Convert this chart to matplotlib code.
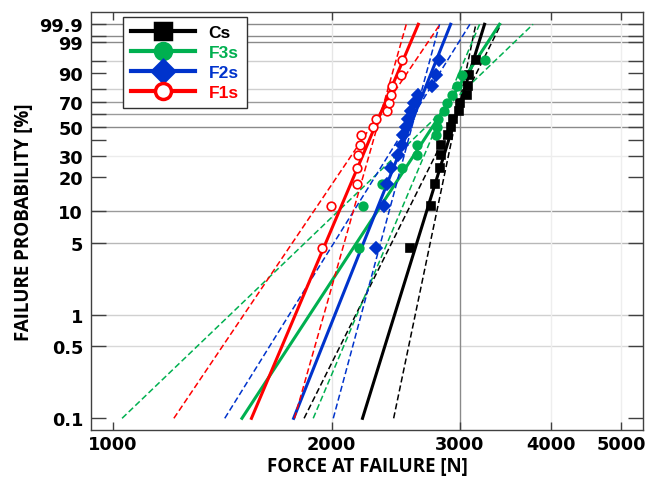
import numpy as np
import matplotlib
matplotlib.use('Agg')
import matplotlib.pyplot as plt
from matplotlib.lines import Line2D
from matplotlib.ticker import FixedLocator, NullLocator

# Data
series = ['Cs', 'F3s', 'F2s', 'F1s']
colors = ['black', '#00b050', '#0033cc', '#ff0000']
markers = ['s', 'o', 'D', 'o']

# failure probability (median ranks, %) of the 15 samples
prob = [4.5, 11.0, 17.5, 24.0, 30.5, 37.0, 43.5, 50.0, 56.5, 63.0, 69.5, 76.0, 82.5, 89.0, 95.5]

cs_force = [2560, 2734, 2772, 2816, 2825, 2825, 2891, 2913, 2937, 2990, 3000, 3064, 3079, 3086, 3152]
f3s_force = [2182, 2209, 2342, 2499, 2615, 2615, 2780, 2786, 2801, 2852, 2876, 2922, 2968, 3019, 3246]
f2s_force = [2298, 2361, 2379, 2412, 2468, 2495, 2507, 2528, 2547, 2569, 2596, 2624, 2743, 2780, 2810]
f1s_force = [1937, 1993, 2163, 2168, 2173, 2189, 2196, 2280, 2298, 2379, 2396, 2409, 2417, 2491, 2499]
forces = [cs_force, f3s_force, f2s_force, f1s_force]

# Weibull fit (scale eta, shape beta) and shape of the two bound lines
eta = [2980, 2845, 2613, 2343]
beta = [22.9, 10.85, 17.8, 16.75]
beta_low = [14.2, 6.8, 11.4, 10.5]
beta_high = [34.0, 16.8, 26.3, 25.0]

line_span = [0.1, 99.9]

ytick_vals = [0.1, 0.5, 1, 5, 10, 20, 30, 50, 70, 90, 99, 99.9]
ytick_minor = [40, 60, 80, 95, 99.5]
xtick_vals = [1000, 2000, 3000, 4000, 5000]


def weib_fwd(p):
    p = np.clip(np.asarray(p, dtype=float), 1e-6, 100 - 1e-9)
    return np.log(-np.log(1 - p / 100.0))


def weib_inv(y):
    return 100.0 * (1 - np.exp(-np.exp(np.asarray(y, dtype=float))))


def weib_x(p, e, b):
    # force at probability p for a Weibull line
    return e * (-np.log(1 - np.asarray(p) / 100.0)) ** (1.0 / b)


fig = plt.figure(figsize=(6.48, 4.81), dpi=100)
ax = fig.add_axes([0.140, 0.1046, 0.853, 0.8677])
ax.set_xscale('log')
ax.set_yscale('function', functions=(weib_fwd, weib_inv))
ax.set_xlim(933, 5360)
ax.set_ylim(0.0775, 99.988)

# grid lines
hgrid = {99.9: '#8a8a8a', 99.5: '#8a8a8a', 99: '#8a8a8a', 95: '#cfcfcf', 80: '#cfcfcf',
         70: '#9a9a9a', 60: '#9a9a9a', 50: '#8a8a8a', 30: '#ececec', 10: '#9a9a9a',
         5: '#b8b8b8', 1: '#d0d0d0', 0.5: '#d8d8d8'}
for yv, c in hgrid.items():
    ax.axhline(yv, color=c, lw=1.0, zorder=0)
vgrid = {2000: '#e6e6e6', 3000: '#8a8a8a', 4000: '#eeeeee', 5000: '#eeeeee'}
for xv, c in vgrid.items():
    ax.axvline(xv, color=c, lw=1.0, zorder=0)

for i in range(len(series)):
    c = colors[i]
    for b, ls, lw in [(beta[i], '-', 2.2), (beta_low[i], (0, (4, 2)), 1.1), (beta_high[i], (0, (4, 2)), 1.1)]:
        ax.plot(weib_x(line_span, eta[i], b), line_span, color=c, ls=ls, lw=lw, zorder=2)
    face = 'white' if series[i] == 'F1s' else c
    ms = 5.8 if markers[i] == 'D' else 6.2
    ax.plot(forces[i], prob, ls='none', marker=markers[i], ms=ms, mfc=face, mec=c,
            mew=1.2, zorder=3)

# ticks
ax.yaxis.set_major_locator(FixedLocator(ytick_vals))
ax.yaxis.set_minor_locator(FixedLocator(ytick_minor))
ax.set_yticklabels([('%g' % v) for v in ytick_vals])
ax.xaxis.set_major_locator(FixedLocator(xtick_vals))
ax.xaxis.set_minor_locator(NullLocator())
ax.set_xticklabels([str(v) for v in xtick_vals])

ax.tick_params(axis='y', which='both', direction='in', length=11, width=1, color='#404040',
               left=True, right=True, pad=5.5)
ax.tick_params(axis='x', which='both', direction='in', length=6, width=1, color='#404040',
               top=True, bottom=True, pad=4)
for lab in ax.get_xticklabels() + ax.get_yticklabels():
    lab.set_fontfamily('DejaVu Sans')
    lab.set_fontweight('bold')
    lab.set_fontsize(12.8)

for sp in ax.spines.values():
    sp.set_color('#404040')
    sp.set_linewidth(1.0)

ax.set_xlabel('FORCE AT FAILURE [N]', fontfamily='Open Sans', fontweight='bold',
              fontsize=13.5, labelpad=2)
ax.set_ylabel('FAILURE PROBABILITY [%]', fontfamily='Open Sans', fontweight='bold',
              fontsize=13.5, labelpad=4)

# legend
handles = []
for i in range(len(series)):
    face = 'white' if series[i] == 'F1s' else colors[i]
    handles.append(Line2D([0], [0], color=colors[i], lw=3, marker=markers[i], ms=11.5,
                          mfc=face, mec=colors[i], mew=2.5))
leg = ax.legend(handles, series, loc='upper left', bbox_to_anchor=(0.058, 0.988),
                borderaxespad=0, handlelength=3.7, handletextpad=0.8, labelspacing=0.27,
                borderpad=0.45, fancybox=False, framealpha=1, edgecolor='#303030',
                prop={'family': 'Liberation Sans', 'weight': 'bold', 'size': 12.5})
leg.get_frame().set_linewidth(1.0)
for t, c in zip(leg.get_texts(), colors):
    t.set_color(c)

fig.savefig('out.png', dpi=100)
